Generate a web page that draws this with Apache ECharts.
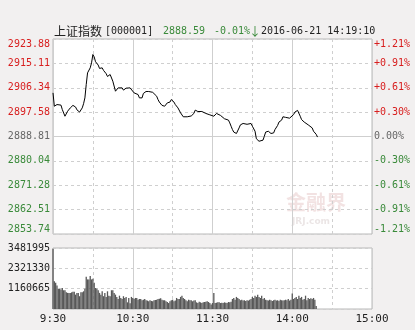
<!DOCTYPE html>
<html><head><meta charset="utf-8">
<script src="https://cdn.jsdelivr.net/npm/echarts@6/dist/echarts.min.js"></script>
<style>html,body{margin:0;padding:0;background:#f2f0f0}#c{width:415px;height:330px}</style>
</head><body><div id="c"></div>
<script>
// time in minutes since 9:30 (trading minutes), price
const pricePoints = [[0,2904.5],[1,2899.7],[3,2900.3],[4,2899.6],[6,2900.1],[7,2898.5],[9,2896.1],[11,2897.9],[13,2899.1],[15,2900.0],[17,2899.4],[18,2898.4],[20,2897.6],[22,2899.1],[23,2900.6],[24,2902.7],[25,2907.5],[26,2911.7],[28,2913.5],[29,2915.3],[30,2918.3],[31,2917.4],[32,2915.7],[34,2914.5],[35,2913.3],[37,2913.5],[38,2912.6],[40,2911.4],[41,2910.4],[43,2911.1],[44,2911.7],[45,2908.7],[47,2905.1],[48,2905.7],[49,2906.3],[50,2905.7],[52,2906.3],[53,2905.5],[55,2906.2],[56,2905.7],[58,2906.3],[59,2906.2],[61,2904.5],[62,2903.9],[64,2903.9],[65,2902.7],[67,2902.7],[68,2904.3],[70,2905.0],[72,2905.0],[73,2904.7],[75,2904.7],[76,2904.3],[78,2903.3],[79,2902.1],[80,2901.2],[82,2900.0],[84,2899.7],[85,2900.0],[86,2900.9],[88,2901.2],[89,2902.1],[91,2901.2],[92,2900.3],[94,2899.1],[96,2897.3],[98,2895.9],[99,2895.9],[101,2895.9],[102,2896.4],[104,2896.2],[105,2895.5],[106,2897.1],[107,2898.3],[109,2897.8],[110,2898.3],[112,2897.8],[113,2897.3],[115,2897.1],[116,2897.1],[118,2896.6],[119,2896.1],[121,2896.1],[123,2897.1],[124,2897.1],[126,2896.4],[127,2895.7],[129,2895.2],[130,2895.0],[132,2894.7],[133,2893.7],[134,2892.5],[135,2891.3],[136,2890.4],[138,2889.9],[139,2890.4],[140,2891.9],[141,2893.0],[143,2893.5],[144,2893.2],[146,2893.2],[147,2893.1],[149,2893.5],[150,2892.5],[152,2890.7],[153,2888.0],[155,2887.1],[156,2886.5],[158,2887.5],[159,2888.9],[160,2890.4],[162,2890.7],[163,2890.8],[164,2889.9],[166,2890.1],[167,2891.3],[169,2892.8],[170,2894.0],[172,2894.7],[173,2895.9],[175,2895.7],[176,2895.6],[178,2895.4],[179,2895.4],[181,2896.7],[182,2897.6],[184,2898.2],[185,2897.6],[186,2896.1],[187,2894.9],[189,2894.0],[190,2893.5],[192,2893.0],[193,2893.2],[195,2891.9],[196,2890.7],[198,2889.6],[199,2888.6]];

// volume per minute, in units of 10,000 (index = minute since 9:30)
const volumeWan = [344,158,150,134,115,115,111,120,107,107,95,92,92,92,95,99,99,82,92,92,73,95,95,101,115,184,169,169,188,169,173,150,120,115,107,92,82,101,73,92,69,101,76,73,107,107,92,82,69,57,76,63,57,73,63,69,38,63,33,69,63,57,63,
63,53,57,57,50,53,57,50,48,44,50,46,44,50,52,53,57,59,61,53,50,50,44,40,34,44,50,53,44,48,63,57,57,69,76,63,57,50,44,53,50,50,44,48,50,38,34,42,38,34,38,40,42,44,40,34,25,34,92,34,36,38,38,34,36,34,
38,36,34,40,38,42,57,63,53,69,63,57,50,53,48,50,46,50,48,53,57,69,63,76,69,82,69,63,76,57,63,53,50,48,53,50,46,50,53,48,50,46,53,50,48,50,53,50,57,48,53,88,57,63,69,57,76,63,69,53,57,76,50,63,57,61,57,63,53,17];

const priceTicks = ['2923.88','2915.11','2906.34','2897.58','2888.81','2880.04','2871.28','2862.51','2853.74'];
const pctTicks = ['+1.21%','+0.91%','+0.61%','+0.30%','0.00%','-0.30%','-0.61%','-0.91%','-1.21%'];
const volTicks = ['', '1160665', '2321330', '3481995'];
const timeTicks = ['9:30','10:30','11:30','14:00','15:00'];
const prevClose = 2888.81;
const priceMin = 2853.74, priceMax = 2923.88, volMax = 3481995;

const RED = '#d81e1e', GREEN = '#3a8a3a', GRAY = '#666666';
const FONT = 'DejaVu Sans Mono';
function tickColor(i){ return i < 4 ? RED : (i === 4 ? GRAY : GREEN); }

const chart = echarts.init(document.getElementById('c'), null, {renderer:'canvas'});
const gridLine = '#cfcfcf';
chart.setOption({
  backgroundColor: '#f2f0f0',
  animation: false,
  grid: [
    {left:53, top:39, width:319, height:195, show:true, backgroundColor:'#ffffff', borderColor:'#b8b8b8', borderWidth:1},
    {left:53, top:248, width:319, height:61, show:true, backgroundColor:'#ffffff', borderColor:'#b8b8b8', borderWidth:1}
  ],
  xAxis: [
    {type:'value', gridIndex:0, min:0, max:240, interval:30, axisLine:{show:false}, axisTick:{show:false}, axisLabel:{show:false},
     splitLine:{show:true, lineStyle:{color:gridLine, type:[3,3], width:1}}},
    {type:'value', gridIndex:0, min:0, max:240, interval:60, axisLine:{show:false}, axisTick:{show:false}, axisLabel:{show:false},
     splitLine:{show:true, lineStyle:{color:gridLine, type:'solid', width:1}}},
    {type:'value', gridIndex:1, min:0, max:240, interval:30, axisLine:{show:false}, axisTick:{show:false}, axisLabel:{show:false},
     splitLine:{show:true, lineStyle:{color:gridLine, type:[3,3], width:1}}},
    {type:'value', gridIndex:1, min:0, max:240, interval:60, position:'bottom', axisLine:{show:false}, axisTick:{show:false},
     axisLabel:{show:true, margin:5, color:'#222', fontFamily:FONT, fontSize:11, formatter:v=>timeTicks[Math.round(v/60)] || ''},
     splitLine:{show:true, lineStyle:{color:gridLine, type:'solid', width:1}}}
  ],
  yAxis: [
    {type:'value', gridIndex:0, min:priceMin, max:priceMax, show:false, splitLine:{show:false}},
    {type:'value', gridIndex:0, min:0, max:8, interval:1, position:'left', axisLine:{show:false}, axisTick:{show:false},
     axisLabel:{show:true, margin:3, fontFamily:FONT, fontSize:10, verticalAlignMaxLabel:'top', verticalAlignMinLabel:'bottom',
       formatter:v=>priceTicks[8-Math.round(v)], color:(v)=>tickColor(8-Math.round(+v))},
     splitLine:{show:true, lineStyle:{color:gridLine, type:[3,3], width:1}}},
    {type:'value', gridIndex:0, min:0, max:8, interval:1, position:'right', axisLine:{show:false}, axisTick:{show:false},
     axisLabel:{show:true, margin:2, fontFamily:FONT, fontSize:10, verticalAlignMaxLabel:'top', verticalAlignMinLabel:'bottom',
       formatter:v=>pctTicks[8-Math.round(v)], color:(v)=>tickColor(8-Math.round(+v))},
     splitLine:{show:false}},
    {type:'value', gridIndex:1, min:0, max:volMax, interval:volMax/3, position:'left', axisLine:{show:false}, axisTick:{show:false},
     axisLabel:{show:true, margin:3, fontFamily:FONT, fontSize:10, color:'#222', formatter:v=>volTicks[Math.round(v/(volMax/3))]},
     splitLine:{show:true, lineStyle:{color:gridLine, type:[3,3], width:1}}}
  ],
  series: [
    {type:'line', xAxisIndex:0, yAxisIndex:0, data:pricePoints, showSymbol:false, symbol:'none',
     lineStyle:{color:'#000', width:1}, z:5,
     markLine:{silent:true, symbol:'none', label:{show:false}, lineStyle:{color:gridLine, type:'solid', width:1}, z:1,
       data:[{yAxis:prevClose}]}},
    {type:'bar', xAxisIndex:2, yAxisIndex:3, barWidth:1.3, itemStyle:{color:'#585858'},
     data: volumeWan.map((v,i)=>[i, v*10000])}
  ],
  graphic: [
    {type:'text', x:54, y:31, style:{text:'上证指数', font:'12px "Noto Sans CJK SC"', fill:'#222', verticalAlign:'middle'}},
    {type:'text', x:105, y:31, style:{text:'[000001]', font:'10px "'+FONT+'"', fill:'#222', verticalAlign:'middle'}},
    {type:'text', x:163, y:31, style:{text:'2888.59', font:'10px "'+FONT+'"', fill:'#3a8a3a', verticalAlign:'middle'}},
    {type:'text', x:214, y:31, style:{text:'-0.01%', font:'10px "'+FONT+'"', fill:'#3a8a3a', verticalAlign:'middle'}},
    {type:'text', x:249, y:31, style:{text:'↓', font:'12px "Noto Sans CJK SC"', fill:'#3a8a3a', verticalAlign:'middle'}},
    {type:'text', x:261, y:31, style:{text:'2016-06-21 14:19:10', font:'10px "'+FONT+'"', fill:'#222', verticalAlign:'middle'}},
    {type:'text', x:286, y:202, style:{text:'金融界', font:'bold 20px "Noto Sans CJK SC"', fill:'rgba(210,150,150,0.28)', verticalAlign:'middle'}},
    {type:'text', x:292, y:222, style:{text:'JRJ.com', font:'bold 9px "DejaVu Sans"', fill:'rgba(190,170,170,0.3)', verticalAlign:'middle'}}
  ]
});
</script></body></html>
